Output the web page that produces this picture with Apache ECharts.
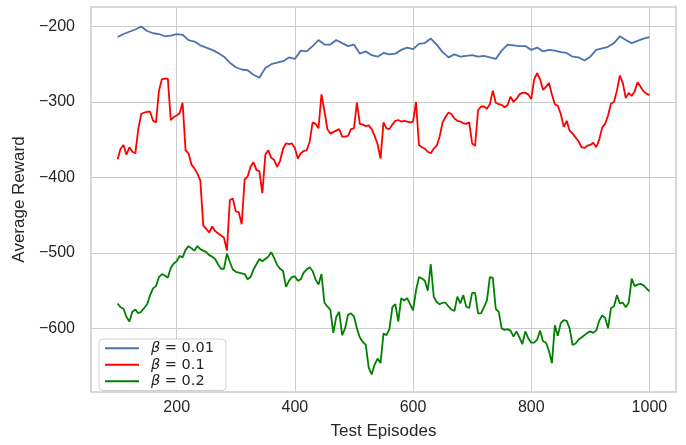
<!DOCTYPE html>
<html>
<head>
<meta charset="utf-8">
<script src="https://cdn.jsdelivr.net/npm/echarts@6/dist/echarts.min.js"></script>
<style>
    html, body { margin: 0; padding: 0; background: #fff; }
    #chart { width: 686px; height: 445px; }
</style>
</head>
<body>
<div id="chart"></div>
<script>
    // episodes (blue read every 10, red/green every 5)
    var blueX = [];
    for (var i = 100; i <= 1000; i += 10) blueX.push(i);
    var fineX = [];
    for (var j = 100; j <= 1000; j += 5) fineX.push(j);

    var seriesNames = ['β = 0.01', 'β = 0.1', 'β = 0.2'];
    var xTicks = [200, 400, 600, 800, 1000];
    var yTicks = [-600, -500, -400, -300, -200];

    var beta001 = [-214, -210, -207, -204, -200, -206, -209, -210, -213, -212,
        -210, -211, -218, -220, -225, -228, -231, -235, -240, -248,
        -254, -257, -258, -264, -268, -255, -250, -248, -246, -241,
        -243, -232, -233, -226, -218, -224, -224, -218, -222, -226,
        -224, -236, -233, -238, -240, -235, -237, -236, -231, -228,
        -230, -223, -222, -216, -224, -234, -241, -237, -240, -239,
        -238, -240, -239, -241, -243, -232, -224, -225, -226, -226,
        -231, -228, -233, -231, -232, -234, -235, -240, -241, -245,
        -240, -231, -229, -227, -222, -213, -218, -222, -219, -216, -214];

    var beta01 = [-376, -362, -357, -370, -360, -366, -368, -336, -316, -314,
        -313, -313, -325, -327, -285, -270, -269, -269, -324, -320,
        -318, -315, -301, -364, -368, -383, -388, -395, -404, -464,
        -468, -473, -465, -471, -474, -477, -480, -497, -430, -428,
        -445, -446, -462, -403, -399, -386, -380, -390, -392, -421,
        -370, -364, -374, -377, -386, -378, -362, -355, -356, -355,
        -361, -375, -368, -365, -364, -353, -327, -329, -335, -290,
        -312, -336, -342, -340, -338, -336, -346, -346, -345, -336,
        -335, -301, -329, -330, -332, -331, -336, -345, -356, -375,
        -327, -335, -336, -330, -325, -324, -326, -325, -326, -327,
        -326, -300, -357, -360, -362, -366, -368, -362, -358, -346,
        -327, -320, -314, -316, -322, -325, -326, -328, -329, -327,
        -355, -358, -311, -306, -306, -309, -303, -285, -301, -303,
        -304, -307, -304, -293, -300, -296, -290, -288, -288, -290,
        -296, -270, -262, -270, -284, -280, -275, -290, -303, -305,
        -316, -333, -325, -338, -342, -347, -352, -360, -361, -358,
        -357, -354, -360, -350, -334, -329, -318, -302, -300, -285,
        -265, -275, -295, -288, -292, -286, -274, -280, -286, -289, -291];

    var beta02 = [-567, -572, -574, -585, -591, -578, -575, -580, -578, -573,
        -568, -556, -547, -544, -532, -528, -530, -533, -520, -514,
        -511, -504, -506, -496, -491, -494, -497, -491, -495, -497,
        -499, -503, -505, -508, -515, -521, -521, -501, -512, -522,
        -525, -526, -527, -528, -535, -532, -522, -515, -508, -511,
        -508, -505, -499, -507, -516, -521, -524, -545, -537, -532,
        -531, -537, -535, -526, -522, -519, -524, -535, -542, -528,
        -566, -571, -575, -606, -585, -578, -609, -600, -582, -580,
        -584, -600, -612, -618, -622, -652, -661, -648, -640, -646,
        -607, -609, -601, -572, -568, -591, -560, -563, -560, -568,
        -576, -550, -532, -534, -537, -550, -515, -558, -565, -568,
        -566, -566, -571, -575, -577, -558, -567, -556, -571, -573,
        -553, -553, -580, -580, -572, -563, -532, -533, -574, -578,
        -600, -602, -601, -603, -611, -604, -612, -621, -604, -613,
        -619, -619, -615, -603, -617, -619, -630, -646, -596, -610,
        -593, -589, -590, -600, -622, -620, -615, -612, -609, -606,
        -604, -606, -603, -590, -583, -586, -600, -573, -571, -556,
        -567, -566, -572, -566, -534, -544, -542, -541, -543, -547, -551];

    function pairs(xs, ys) {
        var out = [];
        for (var k = 0; k < ys.length; k++) out.push([xs[k], ys[k]]);
        return out;
    }

    var chart = echarts.init(document.getElementById('chart'), null, {renderer: 'canvas'});
    var textColor = '#262626';
    var gridColor = '#cccccc';

    var option = {
        animation: false,
        backgroundColor: '#ffffff',
        grid: {
            left: 91, right: 10, top: 7, bottom: 49,
            show: true,
            borderColor: gridColor,
            borderWidth: 1.5,
            backgroundColor: 'transparent'
        },
        legend: {
            left: 99, top: 339,
            orient: 'vertical',
            icon: 'rect',
            itemWidth: 34,
            itemHeight: 2,
            itemGap: 0,
            padding: [1, 12, 1, 6],
            backgroundColor: 'rgba(255,255,255,0.85)',
            borderColor: '#d0d0d0',
            borderWidth: 1,
            borderRadius: 4,
            data: seriesNames,
            formatter: function (name) {
                return '{b|β} ' + name.slice(2);
            },
            textStyle: {
                fontFamily: 'DejaVu Sans',
                fontSize: 14.5,
                color: textColor,
                lineHeight: 16.5,
                padding: [0, 0, 0, 7],
                rich: {
                    b: {fontFamily: 'DejaVu Sans', fontStyle: 'italic', fontSize: 14.5, color: textColor}
                }
            }
        },
        xAxis: {
            type: 'value',
            min: 55, max: 1045,
            name: 'Test Episodes',
            nameLocation: 'middle',
            nameGap: 31,
            nameTextStyle: {fontFamily: 'Liberation Sans', fontSize: 17, color: textColor},
            axisLine: {show: false},
            axisTick: {show: false, customValues: xTicks},
            axisLabel: {
                customValues: xTicks,
                margin: 8,
                fontFamily: 'Liberation Sans', fontSize: 16, color: textColor,
                formatter: function (v) { return String(v); }
            },
            splitLine: {show: true, lineStyle: {color: gridColor, width: 1}}
        },
        yAxis: {
            type: 'value',
            min: -684.3, max: -174.2,
            name: 'Average Reward',
            nameLocation: 'middle',
            nameGap: 53,
            nameTextStyle: {fontFamily: 'Liberation Sans', fontSize: 17, color: textColor},
            axisLine: {show: false},
            axisTick: {show: false, customValues: yTicks},
            axisLabel: {
                customValues: yTicks,
                margin: 16,
                fontFamily: 'Liberation Sans', fontSize: 16, color: textColor,
                formatter: function (v) { return String(v).replace('-', '\u2212'); }
            },
            splitLine: {show: true, lineStyle: {color: gridColor, width: 1}}
        },
        series: [
            {
                name: seriesNames[0], type: 'line', showSymbol: false,
                data: pairs(blueX, beta001),
                color: '#4c72b0', lineStyle: {width: 1.8}
            },
            {
                name: seriesNames[1], type: 'line', showSymbol: false,
                data: pairs(fineX, beta01),
                color: '#ff0000', lineStyle: {width: 1.8}
            },
            {
                name: seriesNames[2], type: 'line', showSymbol: false,
                data: pairs(fineX, beta02),
                color: '#008000', lineStyle: {width: 1.8}
            }
        ]
    };
    chart.setOption(option);
</script>
</body>
</html>
